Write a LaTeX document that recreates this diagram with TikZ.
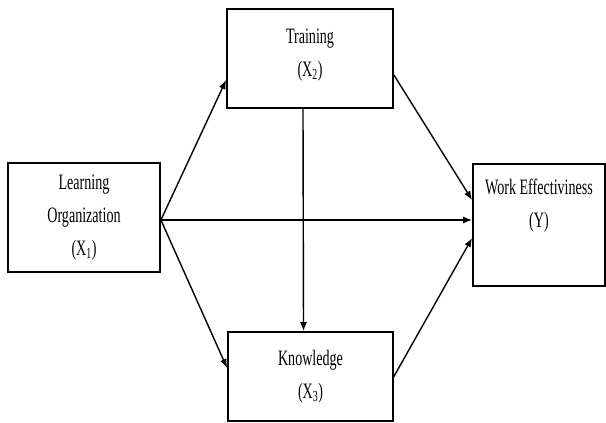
\documentclass[tikz,border=0pt]{standalone}
\usepackage{fontspec}
\setmainfont{Liberation Serif}[FakeStretch=0.64]
\usepackage{tikz}
\usetikzlibrary{positioning,calc,arrows.meta}

\tikzset{
  varbox/.style={draw, rectangle, line width=1.8pt, align=center, font=\fontsize{22}{33}\selectfont},
  link/.style={->, line width=1.4pt}
}

\begin{document}
\begin{tikzpicture}[x=1pt, y=-1pt, >={Latex[length=9pt,width=7pt]}]
    \useasboundingbox (0,0) rectangle (606,423);
    \node [varbox, minimum width=152pt, minimum height=109pt] (lo) at (84,217.5) {Learning\\Organization\\(X\textsubscript{1})};
    \node [varbox, minimum width=166pt, minimum height=99pt, text depth=12pt] (tr) at (310,58.5) {Training\\(X\textsubscript{2})};
    \node [varbox, minimum width=165pt, minimum height=89pt] (kn) at (310.5,376.5) {Knowledge\\(X\textsubscript{3})};
    \node [varbox, minimum width=132pt, minimum height=122pt, text depth=43pt] (we) at (539,225) {Work Effectiviness\\(Y)};
    
    \draw [link] ([yshift=-2.5pt]lo.east) -- ([yshift=-21.5pt]tr.west);
    \draw [link] ([yshift=-2.5pt]lo.east) -- ([yshift=5pt]we.west);
    \draw [link] ([yshift=-2.5pt]lo.east) -- ([yshift=8.5pt]kn.west);
    \draw [link] ([xshift=-7pt]tr.south) -- ([xshift=-7pt]kn.north);
    \draw [link] ([yshift=-16.5pt]tr.east) -- ([yshift=25pt]we.west);
    \draw [link] (kn.east) -- ([yshift=-13pt]we.west);
\end{tikzpicture}
\end{document}
